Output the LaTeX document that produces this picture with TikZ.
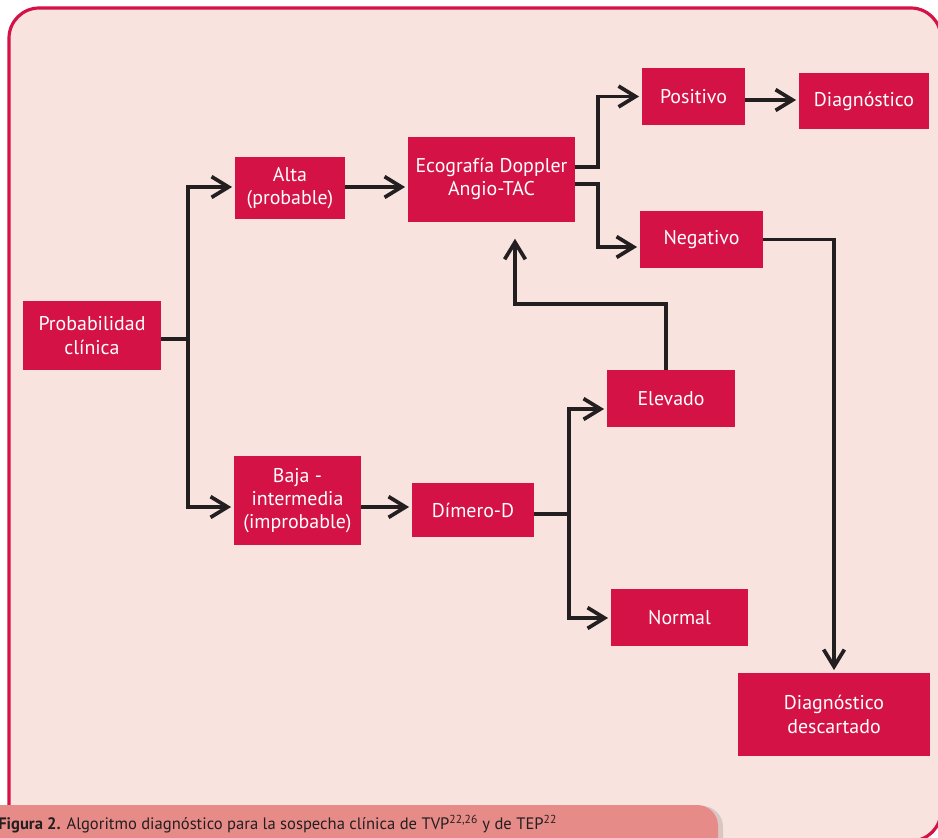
\documentclass[tikz,border=0pt]{standalone}
\usepackage{fontspec}
\setsansfont{PT Sans}
\usetikzlibrary{positioning,arrows.meta}

\definecolor{boxred}{HTML}{D41245}
\definecolor{panel}{HTML}{F8E3DF}
\definecolor{capbar}{HTML}{E68B87}
\definecolor{ink}{HTML}{231F20}

\begin{document}
\begin{tikzpicture}[
  x=0.0265cm, y=-0.0265cm,
  box/.style={rectangle, fill=boxred, text=white, inner sep=0pt, align=center,
              font=\sffamily\fontsize{15}{17.5}\selectfont},
  boxsize/.style 2 args={minimum width=#1*0.0265cm, minimum height=#2*0.0265cm},
  link/.style={draw=ink, line width=2.8pt},
  arrow/.style={link, -{Straight Barb[length=0.45cm, width=0.55cm]}, shorten >=2pt}
]
\useasboundingbox (0,0) rectangle (938,837);
\clip (0,0) rectangle (938,837);

% panel and caption bar
\draw[draw=boxred, fill=panel, line width=2.4pt, rounded corners=0.8cm] (9,8) rectangle (941,841);
\fill[black, opacity=0.12, rounded corners=0.55cm] (-20,806) rectangle (723,870);
\fill[capbar, rounded corners=0.55cm] (-20,805) rectangle (718,870);
\node[anchor=base west, inner sep=0pt, text=ink, font=\sffamily\fontsize{12.5}{14}\selectfont]
  (caption) at (-2,829) {\textbf{Figura 2.} Algoritmo diagnóstico para la sospecha clínica de TVP\textsuperscript{22,26} y de TEP\textsuperscript{22}};

% boxes
\node[box, boxsize={138}{69}] (prob) at (92,335.5) {Probabilidad\\clínica};
\node[box, boxsize={110}{62}] (alta) at (290,188) {Alta\\(probable)};
\node[box, boxsize={127}{89}] (baja) at (297.5,500.5) {Baja -\\intermedia\\(improbable)};
\node[box, boxsize={167}{85}] (eco) at (491.5,179) {Ecografía Doppler\\Angio-TAC};
\node[box, boxsize={122}{54}] (dimero) at (473,510) {Dímero-D};
\node[box, boxsize={103}{57}] (positivo) at (693.5,96.5) {Positivo};
\node[box, boxsize={130}{56}] (diag) at (864,101) {Diagnóstico};
\node[box, boxsize={123}{57}] (negativo) at (701.5,239.5) {Negativo};
\node[box, boxsize={128}{57}] (elevado) at (671,398.5) {Elevado};
\node[box, boxsize={137}{57}] (normal) at (679.5,617.5) {Normal};
\node[box, boxsize={192}{83}] (descartado) at (834,714.5) {Diagnóstico\\descartado};

% connectors
\coordinate (fork) at (188,339);
\coordinate (split) at (569,514);
\draw[link] (fork -| prob.east) -- (fork);
\draw[arrow] (fork) |- (alta.west |- 0,187);
\draw[arrow] (fork) |- (baja.west |- 0,507);
\draw[arrow] (alta.east |- 0,187) -- (eco.west |- 0,187);
\draw[arrow] (baja.east |- 0,507) -- (dimero.west |- 0,507);
\draw[arrow] (eco.east |- 0,167) -- (598,167) |- (positivo.west);
\draw[arrow] (eco.east |- 0,184) -- (598,184) |- (negativo.west |- 0,247);
\draw[arrow] (positivo.east |- 0,100) -- (diag.west |- 0,100);
\draw[arrow] (negativo.east) -| (descartado.north);
\draw[link] (split -| dimero.east) -- (split);
\draw[arrow] (split) |- (elevado.west |- 0,409);
\draw[arrow] (split) |- (normal.west |- 0,618);
\draw[arrow, shorten >=0.45cm] (elevado.north -| 666,0) -- (666,304) -| (eco.south -| 515,0);
\end{tikzpicture}
\end{document}
